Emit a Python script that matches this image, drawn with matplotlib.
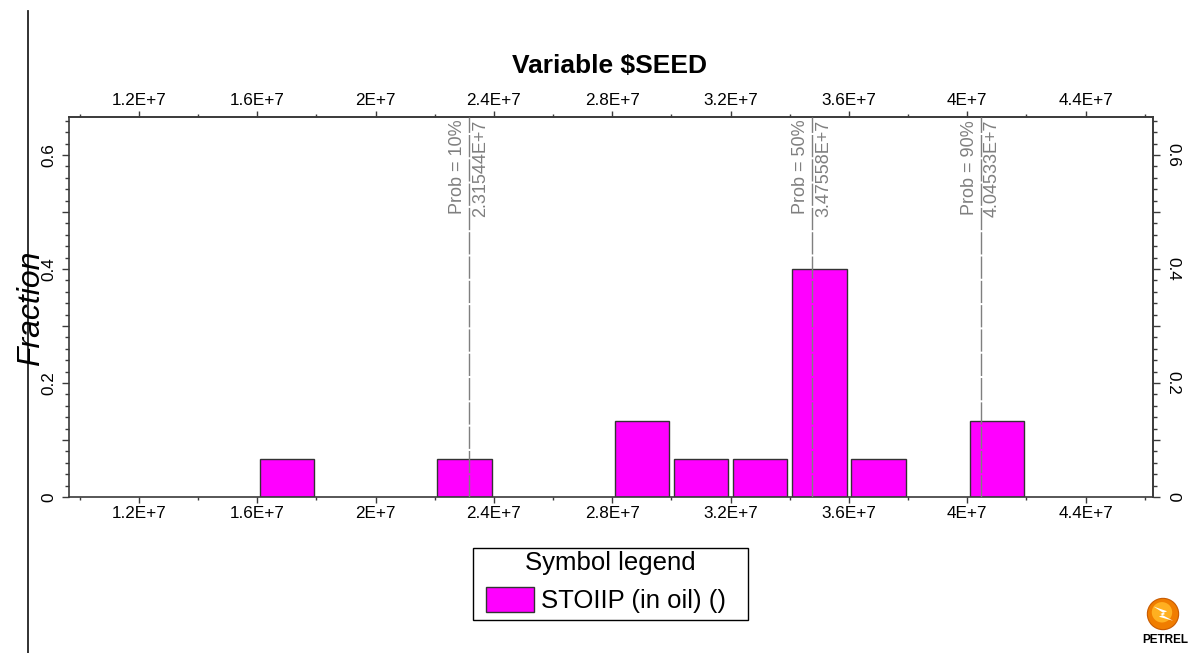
import matplotlib
matplotlib.use('Agg')
import matplotlib.pyplot as plt
from matplotlib.ticker import FixedLocator, FuncFormatter
from matplotlib.patches import Rectangle, Circle, Polygon
from matplotlib.lines import Line2D

plt.rcParams['font.family'] = ['Liberation Sans', 'DejaVu Sans']

# ---- data ----
bin_centers = [1.7e7, 2.3e7, 2.9e7, 3.1e7, 3.3e7, 3.5e7, 3.7e7, 4.1e7]
fractions = [0.0667, 0.0667, 0.1333, 0.0667, 0.0667, 0.4, 0.0667, 0.1333]
prob_levels = [10, 50, 90]
prob_values = [2.31544e7, 3.47558e7, 4.04533e7]
x_major = [1.2e7, 1.6e7, 2.0e7, 2.4e7, 2.8e7, 3.2e7, 3.6e7, 4.0e7, 4.4e7]
x_minor = [1.0e7, 1.4e7, 1.8e7, 2.2e7, 2.6e7, 3.0e7, 3.4e7, 3.8e7, 4.2e7, 4.6e7]
y_major = [0.0, 0.1, 0.2, 0.3, 0.4, 0.5, 0.6]
y_labels = ["0", "", "0.2", "", "0.4", "", "0.6"]
y_minor = [0.02, 0.04, 0.06, 0.08, 0.12, 0.14, 0.16, 0.18, 0.22, 0.24, 0.26, 0.28,
           0.32, 0.34, 0.36, 0.38, 0.42, 0.44, 0.46, 0.48, 0.52, 0.54, 0.56, 0.58,
           0.62, 0.64, 0.66]
title = "Variable \\$SEED"
ylabel = "Fraction"
legend_title = "Symbol legend"
series_name = "STOIIP (in oil) ()"

W, H = 1190, 653
fig = plt.figure(figsize=(W / 100, H / 100), dpi=100)
L, R, T, B = 69, 1153, 117, 497
ax = fig.add_axes([L / W, 1 - B / H, (R - L) / W, (B - T) / H])

spine_c = '#3a3a3a'
ax.bar(bin_centers, fractions, width=1.84e6, color='#ff00ff',
       edgecolor='#333333', linewidth=1.0, zorder=2)

ax.set_xlim(0.9633e7, 4.628e7)
ax.set_ylim(0, 0.6667)

xfmt = FuncFormatter(lambda v, p: f"{v / 1e7:g}E+7")
yfmt = FuncFormatter(lambda v, p: y_labels[p] if p is not None and p < len(y_labels) else "")

for s in ax.spines.values():
    s.set_color(spine_c)
    s.set_linewidth(1.2)


def style_x(a):
    a.xaxis.set_major_locator(FixedLocator(x_major))
    a.xaxis.set_minor_locator(FixedLocator(x_minor))
    a.xaxis.set_major_formatter(xfmt)
    a.tick_params(axis='x', which='major', direction='out', length=4.5, width=1,
                  color=spine_c, labelsize=12.3, pad=2)
    a.tick_params(axis='x', which='minor', direction='out', length=2.5, width=1,
                  color=spine_c)


def style_y(a, rot):
    a.yaxis.set_major_locator(FixedLocator(y_major))
    a.yaxis.set_minor_locator(FixedLocator(y_minor))
    a.yaxis.set_major_formatter(yfmt)
    a.tick_params(axis='y', which='major', direction='out', length=5, width=1,
                  color=spine_c, labelsize=12.3, pad=4, labelrotation=rot)
    a.tick_params(axis='y', which='minor', direction='out', length=2.7, width=1,
                  color=spine_c)
    for lbl in a.get_yticklabels():
        lbl.set_va('center')


style_x(ax)
style_y(ax, 90)

top = ax.secondary_xaxis('top')
style_x(top)
top.spines['top'].set_color(spine_c)
top.spines['top'].set_linewidth(1.2)

right = ax.secondary_yaxis('right')
style_y(right, 270)
right.spines['right'].set_color(spine_c)
right.spines['right'].set_linewidth(1.2)

# percentile lines
gray = '#7f7f7f'
for p, v in zip(prob_levels, prob_values):
    ax.axvline(v, color=gray, lw=1, linestyle=(0, (16, 1.5)), zorder=3)
    ax.annotate(f"Prob = {p}%", xy=(v, 1), xycoords=('data', 'axes fraction'),
                xytext=(-2, -2), textcoords='offset points', rotation=90,
                ha='right', va='top', color=gray, fontsize=13)
    ax.annotate(f"{v / 1e7:.5f}E+7", xy=(v, 1), xycoords=('data', 'axes fraction'),
                xytext=(2, -2), textcoords='offset points', rotation=90,
                ha='left', va='top', color=gray, fontsize=13)

# titles
fig.text(610 / W, 1 - 66 / H, title, ha='center', va='center',
         fontsize=19, fontweight='bold')
fig.text(31 / W, 1 - 308 / H, ylabel, ha='center', va='center',
         fontsize=23, style='italic', rotation=90)

# left vertical rule
fig.add_artist(Line2D([28 / W, 28 / W], [0, 1 - 11 / H], color='#222222', lw=1.3))

# legend box
fig.add_artist(Rectangle((473 / W, 1 - 620 / H), (748 - 473) / W, (620 - 548) / H,
                         transform=fig.transFigure, facecolor='white',
                         edgecolor='black', lw=1))
fig.text(610 / W, 1 - 563 / H, legend_title, ha='center', va='center', fontsize=18.5)
fig.add_artist(Rectangle((486 / W, 1 - 612 / H), (534 - 486) / W, (612 - 587) / H,
                         transform=fig.transFigure, facecolor='#ff00ff',
                         edgecolor='#333333', lw=1))
fig.text(541 / W, 1 - 601 / H, series_name, ha='left', va='center', fontsize=18.5)

# Petrel logo
lax = fig.add_axes([1146 / W, 1 - 631 / H, 34 / W, 34 / H])
lax.set_xlim(0, 1)
lax.set_ylim(0, 1)
lax.set_aspect('equal')
lax.axis('off')
lax.add_patch(Circle((0.5, 0.5), 0.46, facecolor='#f07d00', edgecolor='#c85a00', lw=0.8))
lax.add_patch(Circle((0.47, 0.55), 0.3, facecolor='#ffb020', edgecolor='none'))
lax.add_patch(Polygon([(0.22, 0.72), (0.62, 0.58), (0.42, 0.5), (0.8, 0.3),
                       (0.38, 0.42), (0.56, 0.5)], closed=True,
                      facecolor='white', edgecolor='none'))
fig.text(1165 / W, 1 - 640 / H, "PETREL", ha='center', va='center',
         fontsize=8.5, fontweight='bold', color='black')

fig.savefig('out.png', dpi=100)
